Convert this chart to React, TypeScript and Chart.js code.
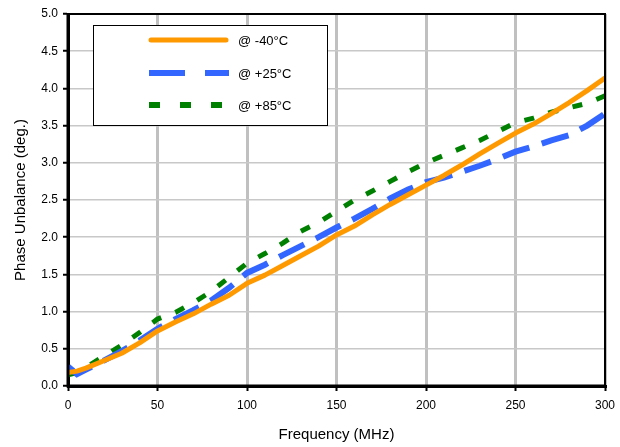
import React, { useEffect, useRef } from "react";
import { Chart, registerables } from "chart.js";

Chart.register(...registerables);

const freq = [0, 5, 10, 20, 30, 40, 50, 60, 70, 80, 90, 100, 110, 120, 130, 140, 150, 160, 170, 180, 190, 200, 210, 220, 230, 240, 250, 260, 270, 280, 290, 300];
const minus40 = [0.18, 0.2, 0.24, 0.34, 0.44, 0.58, 0.74, 0.86, 0.97, 1.1, 1.22, 1.38, 1.49, 1.62, 1.75, 1.88, 2.03, 2.15, 2.3, 2.44, 2.57, 2.7, 2.83, 2.97, 3.12, 3.26, 3.4, 3.52, 3.66, 3.81, 3.97, 4.14];
const plus25 = [0.26, 0.16, 0.22, 0.34, 0.47, 0.61, 0.77, 0.9, 1.02, 1.15, 1.32, 1.52, 1.63, 1.76, 1.88, 2.0, 2.13, 2.25, 2.38, 2.52, 2.64, 2.74, 2.8, 2.88, 2.96, 3.05, 3.15, 3.22, 3.3, 3.37, 3.5, 3.66];
const plus85 = [0.15, 0.18, 0.25, 0.4, 0.55, 0.72, 0.9, 0.99, 1.12, 1.27, 1.46, 1.65, 1.78, 1.92, 2.08, 2.2, 2.35, 2.5, 2.62, 2.75, 2.88, 3.0, 3.1, 3.2, 3.3, 3.42, 3.54, 3.6, 3.68, 3.74, 3.8, 3.9];
const seriesLabels = ["@ -40°C", "@ +25°C", "@ +85°C"];
const xTitle = "Frequency (MHz)";
const yTitle = "Phase Unbalance (deg.)";

const FONT = "'Liberation Sans', Arial, sans-serif";

const legendDash = [[], [36, 20], [11, 20]];

const framePlugin = {
  id: "frame",
  afterDatasetsDraw(chart: any) {
    const { ctx, chartArea } = chart;
    const { left, right, top, bottom } = chartArea;
    ctx.save();
    ctx.strokeStyle = "#000";
    ctx.lineWidth = 2;
    ctx.beginPath();
    ctx.moveTo(left, top);
    ctx.lineTo(right, top);
    ctx.lineTo(right, bottom);
    ctx.stroke();
    ctx.lineWidth = 3;
    ctx.beginPath();
    ctx.moveTo(left, top - 1);
    ctx.lineTo(left, bottom);
    ctx.lineTo(right + 1, bottom);
    ctx.stroke();
    ctx.restore();
  },
  afterDraw(chart: any) {
    const { ctx } = chart;
    ctx.save();
    const bx = 93, by = 25, bw = 234, bh = 100;
    ctx.fillStyle = "#fff";
    ctx.fillRect(bx, by, bw, bh);
    ctx.strokeStyle = "#000";
    ctx.lineWidth = 1;
    ctx.strokeRect(bx + 0.5, by + 0.5, bw, bh);
    const rows = [40, 73, 105];
    chart.data.datasets.forEach((ds: any, i: number) => {
      const y = rows[i];
      ctx.strokeStyle = ds.borderColor;
      ctx.lineWidth = i === 0 ? 5 : 6;
      ctx.lineCap = i === 0 ? "round" : "butt";
      ctx.setLineDash(legendDash[i]);
      ctx.beginPath();
      ctx.moveTo(i === 0 ? 151 : 149, y);
      ctx.lineTo(i === 0 ? 226 : 229, y);
      ctx.stroke();
      ctx.setLineDash([]);
      ctx.fillStyle = "#000";
      ctx.font = `13px ${FONT}`;
      ctx.textBaseline = "middle";
      ctx.textAlign = "left";
      ctx.fillText(ds.label, 238, y + 1);
    });
    ctx.restore();
  },
};

export default function App() {
  const ref = useRef<HTMLCanvasElement>(null);
  useEffect(() => {
    document.body.style.margin = "0";
    const chart = new Chart(ref.current as HTMLCanvasElement, {
      type: "line",
      data: {
        labels: freq,
        datasets: [
          {
            label: seriesLabels[0],
            data: freq.map((f, i) => ({ x: f, y: minus40[i] })),
            borderColor: "#FF9900",
            borderWidth: 5,
            pointRadius: 0,
            tension: 0,
            borderCapStyle: "round",
            borderJoinStyle: "round",
          },
          {
            label: seriesLabels[1],
            data: freq.map((f, i) => ({ x: f, y: plus25[i] })),
            borderColor: "#3366FF",
            borderWidth: 6,
            borderDash: [28, 13],
            pointRadius: 0,
            tension: 0,
          },
          {
            label: seriesLabels[2],
            data: freq.map((f, i) => ({ x: f, y: plus85[i] })),
            borderColor: "#008000",
            borderWidth: 5,
            borderDash: [10, 15],
            pointRadius: 0,
            tension: 0,
          },
        ],
      },
      options: {
        animation: false,
        responsive: true,
        maintainAspectRatio: false,
        layout: { padding: { left: 0, right: 15, top: 14, bottom: 0 } },
        plugins: { legend: { display: false }, tooltip: { enabled: false } },
        scales: {
          x: {
            type: "linear",
            min: 0,
            max: 300,
            afterFit: (s: any) => { s.height = 61; s.paddingRight = 0; s.paddingLeft = 0; },
            ticks: { stepSize: 50, color: "#000", font: { family: FONT, size: 12 }, padding: 7, maxRotation: 0 },
            grid: { color: "#c0c0c0", lineWidth: 3, tickColor: "#000", tickLength: 5, tickWidth: 2 },
            border: { color: "#000", width: 3 },
            title: { display: true, text: xTitle, color: "#000", font: { family: FONT, size: 15 }, padding: { top: 0, bottom: 3 } },
          },
          y: {
            min: 0,
            max: 5,
            afterFit: (s: any) => { s.width = 68; s.paddingTop = 0; s.paddingBottom = 0; },
            ticks: { stepSize: 0.5, color: "#000", font: { family: FONT, size: 12 }, padding: 5, callback: (v: any) => Number(v).toFixed(1) },
            grid: { color: "#c8c8c8", lineWidth: 1.5, tickColor: "#000", tickLength: 5, tickWidth: 2 },
            border: { color: "#000", width: 3 },
            title: { display: true, text: yTitle, color: "#000", font: { family: FONT, size: 15 }, padding: { top: 12, bottom: 0 } },
          },
        },
      },
      plugins: [framePlugin],
    } as any);
    return () => chart.destroy();
  }, []);
  return (
    <div style={{ position: "fixed", left: 0, top: 0, width: 620, height: 447, background: "#fff" }}>
      <canvas ref={ref} />
    </div>
  );
}
